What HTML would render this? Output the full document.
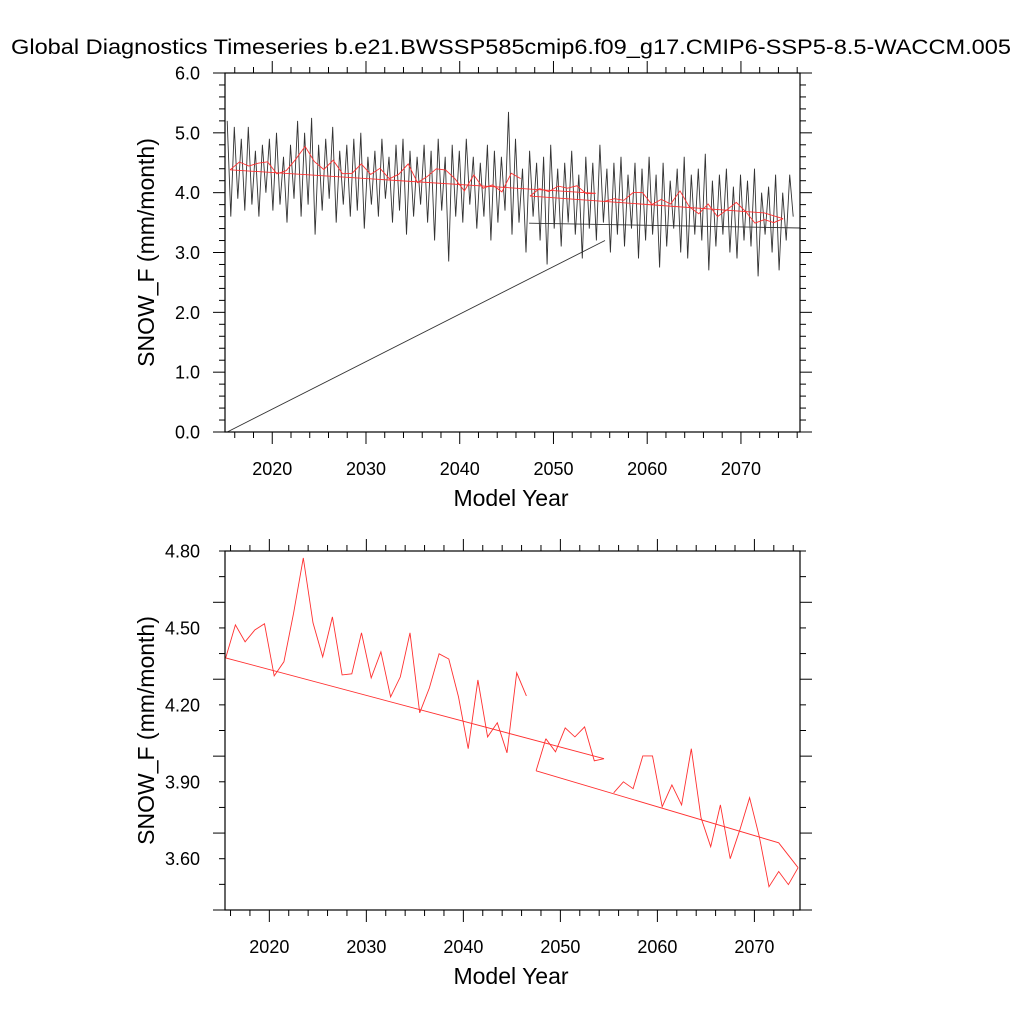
<!DOCTYPE html>
<html><head><meta charset="utf-8">
<style>
body{margin:0;background:#fff;}
svg{display:block;font-family:"Liberation Sans",sans-serif;}
</style></head>
<body>
<svg id="chart" width="1024" height="1024" viewBox="0 0 1024 1024" xmlns="http://www.w3.org/2000/svg">
<rect width="1024" height="1024" fill="#fff"/>
<text x="511" y="54" font-size="21" text-anchor="middle" textLength="1000" lengthAdjust="spacingAndGlyphs">Global Diagnostics Timeseries b.e21.BWSSP585cmip6.f09_g17.CMIP6-SSP5-8.5-WACCM.005</text>
<g id="top"></g>
<g id="bot"></g>
</svg>
<script>
// annual means (mm/month), null = gap
const annualStartYear = 2015.5;
const annualValues = [4.383,4.512,4.446,4.492,4.516,4.313,4.368,4.558,4.773,4.520,4.387,4.543,4.317,4.321,4.481,4.305,4.407,4.231,4.309,4.481,4.169,4.266,4.399,4.379,4.231,4.029,4.297,4.075,4.130,4.013,4.325,4.235,
 null,4.068,4.017,4.110,4.075,4.114,3.982,3.990,
 3.857,3.900,3.873,4.001,4.001,3.803,3.888,3.810,4.029,3.760,3.647,3.810,3.600,3.713,3.838,3.686,3.491,3.550,3.499,3.565];
const segBreaks = [32,40]; // new polyline starts at these indices
// trend lines: [index, value] endpoints
const trend1 = [[0,4.383],[39,3.990]];
const trend2 = [[32,3.943],[33,4.068]];
const trend3 = [[32,3.943],[57,3.662],[59,3.565]];
// monthly-ish black series: alternating peaks/troughs
const blackStart = 2015.2, blackStep = 0.75;
const blackPeaks = [5.2,5.1,4.9,5.1,4.7,4.8,4.9,5.0,4.6,4.8,5.2,5.0,5.25,4.8,4.9,5.1,4.7,4.8,4.9,5.0,4.6,4.7,4.9,4.6,4.8,4.9,4.7,4.6,4.8,4.7,4.9,4.6,4.8,4.7,4.9,4.6,4.5,4.8,4.7,4.6,5.35,4.9,4.4,4.7,4.5,4.6,4.8,4.4,4.5,4.7,4.3,4.6,4.5,4.8,4.4,4.5,4.6,4.3,4.5,4.4,4.6,4.3,4.5,4.2,4.4,4.6,4.3,4.4,4.65,4.2,4.3,4.4,4.1,4.3,4.2,4.4,4.0,4.1,4.3,4.0,4.3];
const blackTroughs = [3.6,3.9,3.7,3.8,3.6,4.0,3.7,3.8,3.5,3.9,3.6,3.8,3.3,3.7,3.9,3.5,3.8,3.6,3.7,3.4,3.8,3.6,3.9,3.5,3.7,3.3,3.6,3.8,3.5,3.2,3.7,2.85,3.6,3.5,3.8,3.4,3.6,3.2,3.5,3.7,3.3,3.5,3.0,3.6,3.2,2.8,3.4,3.1,3.5,3.3,2.9,3.4,3.2,3.5,3.0,3.3,3.1,3.4,2.9,3.2,3.3,2.75,3.1,3.4,3.0,2.9,3.3,3.2,2.7,3.1,3.3,3.0,2.9,3.2,3.1,2.6,3.3,3.0,2.7,3.2,3.6];
const blackTrend = [[2047.4,3.49],[2076.3,3.41]];
const blackArtifact = [[2015.2,0.0],[2055.5,3.20]];
const xTicks = [2020,2030,2040,2050,2060,2070];
const topYTicks = ["0.0","1.0","2.0","3.0","4.0","5.0","6.0"];
const botYTicks = ["3.60","3.90","4.20","4.50","4.80"];

const NS="http://www.w3.org/2000/svg";
function el(parent,tag,attrs){const e=document.createElementNS(NS,tag);for(const k in attrs)e.setAttribute(k,attrs[k]);parent.appendChild(e);return e;}

function panel(g,cfg){
  const L=225,R=800,T=cfg.T,B=cfg.B;
  const sx=v=>L+(v-cfg.x0)/(cfg.x1-cfg.x0)*(R-L);
  const sy=v=>B-(v-cfg.y0)/(cfg.y1-cfg.y0)*(B-T);
  for(let y=2014;y<=2078;y+=2){ if(sx(y)<L-0.5||sx(y)>R+0.5)continue;
    const major=y%10===0, len=major?12:6;
    const t1=el(g,'line',{x1:sx(y),x2:sx(y),y1:B,y2:B+len,stroke:'#000','stroke-width':1});
    
    
    const t2=el(g,'line',{x1:sx(y),x2:sx(y),y1:T,y2:T-len,stroke:'#000','stroke-width':1});
    
    
  }
  for(let k=0;;k++){const v=cfg.y0+k*cfg.minor; if(v>cfg.y1+1e-6)break;
    const major=Math.abs(((v-cfg.y0)/cfg.major)-Math.round((v-cfg.y0)/cfg.major))<1e-6, len=major?12:6;
    const a=el(g,'line',{x1:L,x2:L-len,y1:sy(v),y2:sy(v),stroke:'#000','stroke-width':1});
    
    
    const b=el(g,'line',{x1:R,x2:R+len,y1:sy(v),y2:sy(v),stroke:'#000','stroke-width':1});
    
    
  }
  xTicks.forEach(y=>{const t=el(g,'text',{x:sx(y),y:B+43,'font-size':18,'text-anchor':'middle'});t.textContent=y;
    
    });
  cfg.yLabels.forEach(s=>{const t=el(g,'text',{x:L-25,y:sy(parseFloat(s))+6.5,'font-size':18,'text-anchor':'end'});t.textContent=s;
    
    });
  const xl=el(g,'text',{x:511,y:B+74,'font-size':23,'text-anchor':'middle'});xl.textContent='Model Year';
  
  
  const cy=(T+B)/2;
  const yl=el(g,'text',{x:0,y:0,'font-size':23,'text-anchor':'middle',transform:`translate(154,${cy}) rotate(-90)`});yl.textContent='SNOW_F (mm/month)';
  
  
  const cid='clip'+T;
  const cp=el(g,'clipPath',{id:cid}); el(cp,'rect',{x:L,y:T,width:R-L,height:B-T});
  const dg=el(g,'g',{'clip-path':`url(#${cid})`});
  
  
  const pl=(pts,color,name)=>{const p=el(dg,'polyline',{points:pts.map(q=>q[0].toFixed(1)+','+q[1].toFixed(1)).join(' '),fill:'none',stroke:color,'stroke-width':0.9});
    
    };
  if(cfg.black){
    const pts=[];const n=Math.min(blackPeaks.length,blackTroughs.length);
    for(let c=0;c<n;c++){const yr=blackStart+c*blackStep;
      pts.push([sx(yr),sy(blackPeaks[c])]);pts.push([sx(yr+blackStep/2),sy(blackTroughs[c])]);}
    pl(pts,'#333','monthly-series');
    pl(blackTrend.map(p=>[sx(p[0]),sy(p[1])]),'#333','monthly-trend');
    pl(blackArtifact.map(p=>[sx(p[0]),sy(p[1])]),'#333','monthly-connector');
  }
  let seg=[];const segs=[];
  annualValues.forEach((v,i)=>{ if(segBreaks.includes(i)&&seg.length){segs.push(seg);seg=[];}
    if(v!==null)seg.push([sx(annualStartYear+i),sy(v)]);});
  if(seg.length)segs.push(seg);
  segs.forEach(s=>pl(s,'#ff3030','annual-mean-line'));
  [trend1,trend2,trend3].forEach(t=>pl(t.map(p=>[sx(annualStartYear+p[0]),sy(p[1])]),'#ff3030','annual-trend-line'));
  const fr=el(g,'rect',{x:L,y:T,width:R-L,height:B-T,fill:'none',stroke:'#000','stroke-width':1.2});
  
  
}
panel(document.getElementById('top'),{T:73,B:432,x0:2014.96,x1:2076.3,y0:0,y1:6,minor:0.2,major:1,yLabels:topYTicks,black:true});
panel(document.getElementById('bot'),{T:551,B:910,x0:2015.43,x1:2074.7,y0:3.4,y1:4.8,minor:0.1,major:0.3,yLabels:botYTicks,black:false});
</script>
</body></html>
